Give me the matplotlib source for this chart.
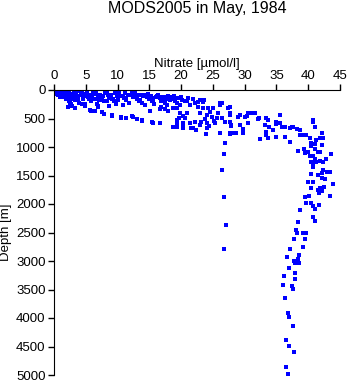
import numpy as np
import matplotlib
matplotlib.use('Agg')
from matplotlib import pyplot as plt

plt.rcParams.update({
    "font.family": ["Liberation Sans", "DejaVu Sans"],
    "font.size": 9.5,
})

# surface layer (0-350 m)
surf_no3 = [0.2, 0.3, 0.5, 0.6, 0.8, 0.4, 0.9, 0.1, 0.7, 1.0,
            1.2, 1.4, 1.6, 1.8, 1.3, 1.9, 1.5,
            2.1, 2.3, 2.5, 2.7, 2.4, 2.6, 2.9, 2.2,
            3.1, 3.4, 3.6, 3.8, 3.3, 3.9,
            4.2, 4.6, 5.0, 5.4, 5.8, 4.8,
            6.2, 6.5, 6.9, 7.2, 7.5, 7.8, 6.7, 7.0,
            8.2, 8.5, 8.9, 9.2, 9.5, 9.8, 8.7,
            10.2, 10.6, 11.0, 11.4, 11.8, 10.8,
            12.2, 12.6, 13.0, 13.4, 13.8,
            14.2, 14.6, 15.0, 15.4, 15.8, 14.3,
            16.2, 16.7, 17.1, 17.5, 17.8, 16.9,
            18.2, 18.5, 19.0, 19.3, 19.8, 18.8,
            13.8, 14.6, 15.4, 16.7, 17.5, 18.5, 19.0, 19.8, 20.1, 21.1, 21.4,
            22.7, 23.5, 22.9, 23.6, 26.1, 26.4]
surf_dep = [0, 10, 20, 30, 50, 70, 90, 40, 60, 110,
            20, 50, 80, 100, 130, 150, 60,
            40, 80, 120, 150, 200, 250, 280, 300,
            30, 60, 100, 150, 180, 230,
            40, 70, 100, 130, 180, 250,
            40, 70, 100, 140, 170, 200, 240, 300,
            50, 90, 120, 160, 200, 240, 280,
            60, 100, 140, 180, 220, 270,
            60, 100, 150, 190, 230,
            80, 120, 150, 200, 250, 263,
            100, 140, 180, 220, 260, 300,
            120, 150, 200, 230, 270, 320,
            88, 117, 146, 117, 175, 128, 175, 263, 175, 146, 263,
            205, 205, 175, 175, 263, 234]

# extra points filling the dense surface band
band_no3 = [0.1, 0.3, 0.5, 0.7, 0.2, 0.6, 1.1, 1.0, 0.9, 1.7, 1.5, 2.0,
            2.0, 2.4, 2.8, 3.0, 3.2, 3.5, 3.7, 4.0, 4.3, 4.5, 4.4, 4.9,
            5.2, 5.5, 5.7, 6.0, 6.3, 5.9, 6.4, 6.6, 7.0, 7.3, 7.1, 7.7,
            8.0, 8.3, 8.6, 8.4, 9.0, 9.3, 9.6, 9.9, 10.3, 10.1, 10.9,
            11.2, 11.6, 11.3, 12.0, 12.4, 12.8, 13.2, 13.6, 13.1, 14.0,
            14.8, 15.2, 15.6, 16.0, 16.4, 16.8, 17.3, 17.6, 18.0, 18.3,
            18.9, 19.5, 20.0, 20.6, 21.0, 21.8, 22.2,
            2.5, 2.8, 3.3, 4.4, 4.9, 5.9, 7.0, 6.4, 7.8, 9.1, 10.6, 11.4,
            12.2, 13.0, 15.1, 16.7, 17.5, 18.0, 19.3, 19.6, 20.3]
band_dep = [5, 15, 35, 25, 55, 80, 35, 75, 120, 20, 95, 60,
            140, 30, 110, 70, 140, 40, 120, 20, 90, 150, 60, 110,
            30, 150, 80, 110, 60, 190, 150, 30, 130, 80, 180, 110,
            30, 60, 140, 190, 80, 150, 50, 110, 80, 170, 110,
            50, 80, 160, 90, 130, 50, 90, 170, 120, 110,
            70, 100, 180, 120, 90, 200, 130, 160, 100, 180,
            100, 140, 120, 200, 190, 150, 230,
            222, 280, 310, 251, 280, 368, 280, 368, 426, 455, 485, 485,
            455, 514, 368, 339, 339, 368, 310, 485, 455]

# nitracline (300-900 m)
mid_no3 = [5.7, 7.5, 9.1, 10.6, 12.4, 13.8, 15.4, 16.7, 18.7, 19.3, 20.3, 21.9,
           22.7, 23.5, 24.3, 25.0, 27.4, 27.7, 23.0, 24.0, 24.8, 25.6, 26.4,
           26.9, 25.3, 24.0, 23.2, 22.2, 21.4, 20.3, 19.3, 24.0, 26.1, 27.7,
           28.7, 29.8, 29.2, 19.8, 20.9, 20.6, 19.3, 29.2, 30.3, 31.1, 31.6,
           32.1, 27.7, 27.9, 26.1, 27.7, 27.7, 30.6, 31.6, 29.0, 30.0, 32.3,
           33.4, 33.7, 35.0, 35.5, 40.8, 41.0, 37.1, 36.0, 37.6,
           28.2, 27.7, 28.7, 27.9, 29.8, 29.7, 26.1, 23.9, 22.4, 21.6, 20.3,
           18.8, 32.4, 30.6, 33.9, 33.2, 35.5, 35.0, 35.8, 36.3, 36.3, 37.1,
           34.9, 33.7, 33.4, 33.4, 34.5, 37.4, 38.2, 38.7, 40.8,
           13.8, 15.6, 24.6, 25.8, 23.7, 25.1, 22.9, 24.4]
mid_dep = [350, 380, 440, 480, 470, 525, 567, 585, 645, 585, 645, 670,
           292, 321, 321, 321, 321, 409, 409, 438, 468, 497, 497,
           555, 585, 585, 555, 555, 585, 585, 643, 672, 748, 760,
           760, 690, 614, 409, 409, 497, 526, 438, 456, 409, 409,
           514, 555, 614, 234, 292, 438, 409, 409, 468, 468, 497,
           497, 526, 555, 438, 526, 643, 672, 643, 643,
           760, 772, 760, 632, 760, 701, 760, 772, 701, 672, 672,
           643, 865, 585, 643, 614, 585, 596, 643, 655, 818, 906,
           818, 848, 789, 731, 701, 655, 690, 701, 555,
           543, 573, 380, 400, 500, 540, 620, 640]

# single deep profile near 27 umol/l
prof_no3 = [26.9, 26.8, 26.5, 26.7, 27.0, 26.8]
prof_dep = [935, 1128, 1403, 1883, 2368, 2795]

# deep water (> 800 m)
deep_no3 = [39.7, 39.2, 38.7, 42.1, 40.3, 41.8, 42.3, 41.3, 40.4, 41.0, 42.1,
            40.5, 39.3, 41.0, 38.4, 40.0, 41.6, 41.9, 39.5, 40.8, 40.3, 43.6,
            41.0, 42.8, 40.5, 41.2, 41.8, 42.3, 40.7, 40.8, 42.3, 42.9, 43.4,
            42.1, 40.5, 41.6, 42.6, 42.2, 40.0, 40.8, 40.5, 43.9, 42.5, 43.4,
            42.1, 41.9, 41.6, 41.7, 39.5, 40.2, 39.6, 40.5, 41.7, 40.8, 41.0,
            41.1, 40.8, 38.7, 38.4, 38.1, 39.5, 38.2, 39.1, 39.6, 37.7, 39.2,
            37.1, 36.7, 36.7, 38.5, 37.8, 38.4, 38.6, 37.9, 37.0, 37.9, 37.9,
            36.2, 36.1, 37.5, 37.6, 36.4, 36.8, 37.0, 37.6, 36.5, 37.0, 37.8,
            36.5, 36.8]
deep_dep = [789, 789, 789, 748, 848, 848, 848, 877, 935, 947, 965,
            982, 1040, 1040, 1063, 1082, 1082, 1082, 1110, 1158, 1158, 1128,
            1216, 1210, 1257, 1257, 1240, 1257, 1286, 1345, 1404, 1444, 1444,
            1450, 1474, 1491, 1567, 1550, 1608, 1608, 1725, 1649, 1696, 1860,
            1771, 1725, 1754, 1813, 1871, 1860, 1977, 1988, 2017, 2035, 2087,
            2298, 2222, 2105, 2320, 2455, 2620, 2503, 2515, 2503, 2614, 2760,
            2795, 2923, 2935, 2900, 3000, 2970, 3040, 3030, 3127, 3215, 3320,
            3263, 3420, 3438, 3496, 3654, 3917, 3987, 4134, 4385, 4485, 4590,
            4865, 4982]

nitrate = np.array(surf_no3 + band_no3 + mid_no3 + prof_no3 + deep_no3)
depth = np.array(surf_dep + band_dep + mid_dep + prof_dep + deep_dep)

fig = plt.figure(figsize=(3.48, 3.84), dpi=100)
ax = fig.add_axes([54/348, 1 - 375/384, 286/348, 285/384])

ax.plot(nitrate, depth, 's', color='#0000ff', markersize=2.3, markeredgewidth=0)

ax.set_xlim(0, 45)
ax.set_ylim(5000, 0)
ax.set_xticks(np.arange(0, 46, 5))
ax.set_yticks(np.arange(0, 5001, 500))
ax.xaxis.tick_top()
ax.xaxis.set_label_position('top')
ax.set_xlabel(u'Nitrate [\u00b5mol/l]', labelpad=2)
ax.set_ylabel('Depth [m]', labelpad=3)
for s in ['right', 'bottom']:
    ax.spines[s].set_visible(False)
ax.tick_params(direction='out', length=4, width=1, pad=2, labelsize=9.5)

fig.text((54 + 340) / 2 / 348, 1 - 9/384, 'MODS2005 in May, 1984',
         ha='center', va='center', fontsize=11.5)

plt.savefig('out.png', dpi=100)
